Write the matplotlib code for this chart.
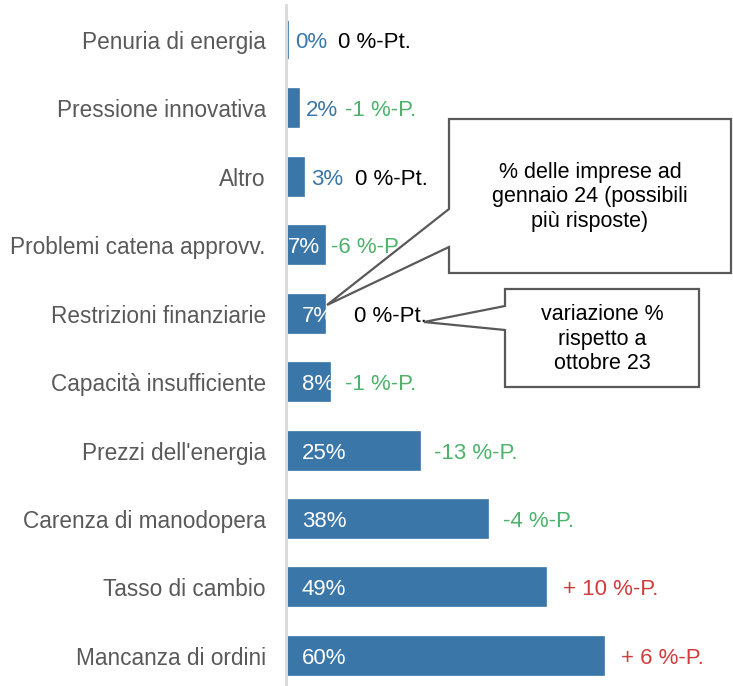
#!/usr/bin/env python

import matplotlib
matplotlib.use('Agg')
import matplotlib.pyplot as plt
from matplotlib.patches import Polygon

plt.rcParams['font.family'] = ['Liberation Sans', 'DejaVu Sans']

categories = ['Penuria di energia', 'Pressione innovativa', 'Altro',
              'Problemi catena approvv.', 'Restrizioni finanziarie',
              'Capacità insufficiente', "Prezzi dell'energia",
              'Carenza di manodopera', 'Tasso di cambio', 'Mancanza di ordini']
shares = [0, 2, 3, 7, 7, 8, 25, 38, 49, 60]
share_labels = ['0%', '2%', '3%', '7%', '7%', '8%', '25%', '38%', '49%', '60%']
changes = ['0 %-Pt.', '-1 %-P.', '0 %-Pt.', '-6 %-P', '0 %-Pt.', '-1 %-P.',
           '-13 %-P.', '-4 %-P.', '+ 10 %-P.', '+ 6 %-P.']
change_sign = [0, -1, 0, -1, 0, -1, -1, -1, 1, 1]

bar_col = '#3A76A8'
sign_col = {0: 'black', -1: '#4DB36A', 1: '#D13D3D'}
# pixel offsets of the change label from the bar end (layout only)
chg_off = [50, 46, 51, 6, 29, 15, 15, 15, 17, 17]

W, H = 733, 686
fig = plt.figure(figsize=(W / 100, H / 100), dpi=100)
ax = fig.add_axes([288 / W, 0, (W - 288) / W, (H - 5) / H])

y = list(range(len(categories)))
ax.barh(y, shares, height=0.555, color=bar_col, edgecolor=bar_col, linewidth=1.2)

for s in ['top', 'right', 'bottom']:
    ax.spines[s].set_visible(False)
ax.spines['left'].set_color('#d9d9d9')
ax.spines['left'].set_linewidth(2)
ax.spines['left'].set_position(('outward', 1.5))

ax.set_xlim(0, (W - 288) / 5.26)
ax.set_ylim(9.44, -0.51)
ax.set_yticks(y)
ax.set_yticklabels(categories, fontsize=16.3, color='#595959')
ax.tick_params(length=0, pad=14.5)
ax.set_xticks([])

for i, v in enumerate(shares):
    if v < 5:
        ax.annotate(share_labels[i], (v, i), xytext=(7, 0), textcoords='offset pixels',
                    va='center_baseline', ha='left', fontsize=16, color=bar_col)
    else:
        off = 0 if i == 3 else 14
        ax.annotate(share_labels[i], (0, i), xytext=(off, 0), textcoords='offset pixels',
                    va='center_baseline', ha='left', fontsize=16, color='white')
    ax.annotate(changes[i], (v, i), xytext=(chg_off[i], 0), textcoords='offset pixels',
                va='center_baseline', ha='left', fontsize=16, color=sign_col[change_sign[i]])


def px(x, yy):
    return (x / W, 1 - yy / H)


box1 = [(449, 119), (731, 119), (731, 273), (449, 273), (449, 247), (327, 305), (449, 209)]
box2 = [(505, 289), (699, 289), (699, 387), (505, 387), (505, 330), (424, 322), (505, 306)]
for b in (box1, box2):
    fig.patches.append(Polygon([px(*p) for p in b], closed=True, transform=fig.transFigure,
                               facecolor='white', edgecolor='#595959', linewidth=1.6, zorder=5))

fig.text(590 / W, 1 - 197 / H, '% delle imprese ad\ngennaio 24 (possibili\npiù risposte)',
         ha='center', va='center', fontsize=15.5, linespacing=1.2, zorder=6)
fig.text(602 / W, 1 - 339 / H, 'variazione %\nrispetto a\nottobre 23',
         ha='center', va='center', fontsize=15.5, linespacing=1.2, zorder=6)

fig.savefig('out.png', dpi=100)
